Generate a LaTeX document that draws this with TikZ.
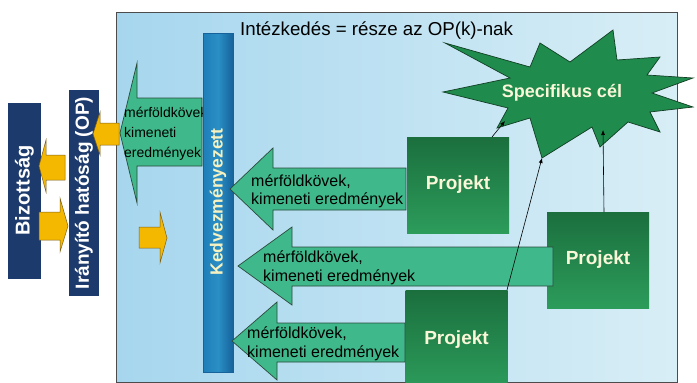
\documentclass[tikz,border=0pt]{standalone}
\usepackage{fontspec}
\setmainfont{Liberation Sans}
\usetikzlibrary{arrows.meta}
\definecolor{navy}{HTML}{1D3A6C}
\definecolor{panelL}{HTML}{A6D6EE}
\definecolor{panelR}{HTML}{D8EEF6}
\definecolor{kedvM}{HTML}{2A8FC6}
\definecolor{kedvL}{HTML}{1F7FB8}
\definecolor{kedvD}{HTML}{16629A}
\definecolor{arrowgreen}{HTML}{3FB98B}
\definecolor{arrowedge}{HTML}{2B4A3A}
\definecolor{projD}{HTML}{1B6F3D}
\definecolor{projL}{HTML}{2C9C5B}
\definecolor{stargreen}{HTML}{1F8B4C}
\definecolor{staredge}{HTML}{123F25}
\definecolor{yel}{HTML}{F5B800}
\definecolor{yeledge}{HTML}{7A6020}
\definecolor{cream}{HTML}{F6F1C0}
\tikzset{
  navybox/.style={fill=navy, text=white, inner sep=0pt, rotate=90,
    font=\bfseries\fontsize{19}{19}\selectfont},
  greenarrow/.style={fill=arrowgreen, draw=arrowedge, line width=0.7pt, line join=miter},
  yelarrow/.style={fill=yel, draw=yeledge, line width=0.5pt},
  arrowtext/.style={anchor=base west, inner sep=0pt, font=\fontsize{16}{16}\selectfont},
  projbox/.style={top color=projD, bottom color=projL, inner sep=0pt,
    minimum width=102pt, minimum height=96pt, text=cream!60!white,
    font=\bfseries\fontsize{19}{19}\selectfont},
  thinarrow/.style={-{Latex[length=5pt,width=4pt]}, line width=0.6pt, draw=black}
}
\begin{document}
\begin{tikzpicture}[x=1pt,y=-1pt]
\useasboundingbox (0,0) rectangle (697,383);
\fill[white] (0,0) rectangle (697,383);
% panel
\path[left color=panelL, right color=panelR, draw=black!70, line width=0.8pt] (116,12) rectangle (677,382);
% title
\node[anchor=base west, inner sep=0pt, font=\fontsize{18.7}{18.7}\selectfont] (title) at (240,35) {Intézkedés = része az OP(k)-nak};
% left boxes
\node[navybox, minimum width=176pt, minimum height=33pt, font=\bfseries\fontsize{20}{20}\selectfont] (biz) at (24.5,190.5) {Bizottság};
\node[navybox, minimum width=206pt, minimum height=30pt] (ir) at (84,193) {Irányító hatóság (OP)};
% yellow arrows
\path[yelarrow] (39,166) -- (46,140) -- (46,155) -- (65,155) -- (65,180) -- (46,180) -- (46,192) -- cycle;
\path[yelarrow] (39,212) -- (60,212) -- (60,198) -- (68,226) -- (60,252) -- (60,240) -- (39,240) -- cycle;
\path[yelarrow] (93,134) -- (100,112) -- (100,123) -- (119,123) -- (119,145) -- (100,145) -- (100,155) -- cycle;
\path[yelarrow] (139,227) -- (160,227) -- (160,212) -- (167,238) -- (160,263) -- (160,248) -- (139,248) -- cycle;
% big green arrow
\path[greenarrow] (120,133) -- (137,63) -- (137,98) -- (202,98) -- (202,166) -- (137,166) -- (137,203) -- cycle;
\node[arrowtext, font=\fontsize{14}{14}\selectfont] (bt1) at (124,117) {mérföldkövek,};
\node[arrowtext, font=\fontsize{14}{14}\selectfont] (bt2) at (124,137) {kimeneti};
\node[arrowtext, font=\fontsize{14}{14}\selectfont] (bt3) at (124,157) {eredmények};
% Kedvezmenyezett bar
\node[left color=kedvL, right color=kedvD, middle color=kedvM, draw=kedvD, line width=0.5pt,
  minimum width=30pt, minimum height=339pt, inner sep=0pt] (kedv) at (218,202.5) {};
\node[rotate=90, text=cream, inner sep=0pt, font=\bfseries\fontsize{17.5}{17.5}\selectfont] (kedvtext) at (218,202) {Kedvezményezett};
% star
\path[fill=stargreen, draw=staredge, line width=0.7pt, line join=miter]
  (445,43) -- (530,67) -- (540,43) -- (570,62) -- (613,30) -- (617,60) -- (660,57) -- (647,75)
  -- (693,78) -- (652,93) -- (693,107) -- (650,112) -- (660,132) -- (628,122) -- (600,147)
  -- (592,127) -- (542,158) -- (530,118) -- (497,128) -- (508,108) -- (443,92) -- (510,78) -- cycle;
\node[anchor=base, inner sep=0pt, text=cream!60!white, font=\bfseries\fontsize{18}{18}\selectfont] (spec) at (562,97) {Specifikus cél};
% projekt boxes
\node[projbox] (p1) at (458,185) {Projekt};
\node[projbox] (p2) at (598,260) {Projekt};
\node[projbox, minimum height=100pt] (p3) at (456.5,340) {Projekt};
% green arrows
\path[greenarrow] (230,189) -- (273,148) -- (273,168) -- (406,168) -- (406,210) -- (273,210) -- (273,230) -- cycle;
\path[greenarrow] (238,266) -- (292,227) -- (292,247) -- (553,247) -- (553,286) -- (292,286) -- (292,305) -- cycle;
\path[greenarrow] (232,341) -- (277,302) -- (277,323) -- (405,323) -- (405,362) -- (277,362) -- (277,380) -- cycle;
\node[arrowtext] (a1t1) at (251,186) {mérföldkövek,};
\node[arrowtext] (a1t2) at (251,204) {kimeneti eredmények};
\node[arrowtext] (a2t1) at (263,262) {mérföldkövek,};
\node[arrowtext] (a2t2) at (263,281) {kimeneti eredmények};
\node[arrowtext] (a3t1) at (247,338) {mérföldkövek,};
\node[arrowtext] (a3t2) at (247,357) {kimeneti eredmények};
% connectors
\coordinate (s1) at (505,121);
\coordinate (s2) at (542,158);
\coordinate (s3) at (603,130);
\coordinate (p1c) at (492,137);
\coordinate (p3c) at (507,290);
\coordinate (p2c) at (604,212);
\draw[thinarrow] (p1c) -- (s1);
\draw[thinarrow] (p3c) -- (s2);
\draw[thinarrow] (p2c) -- (s3);
\end{tikzpicture}
\end{document}
